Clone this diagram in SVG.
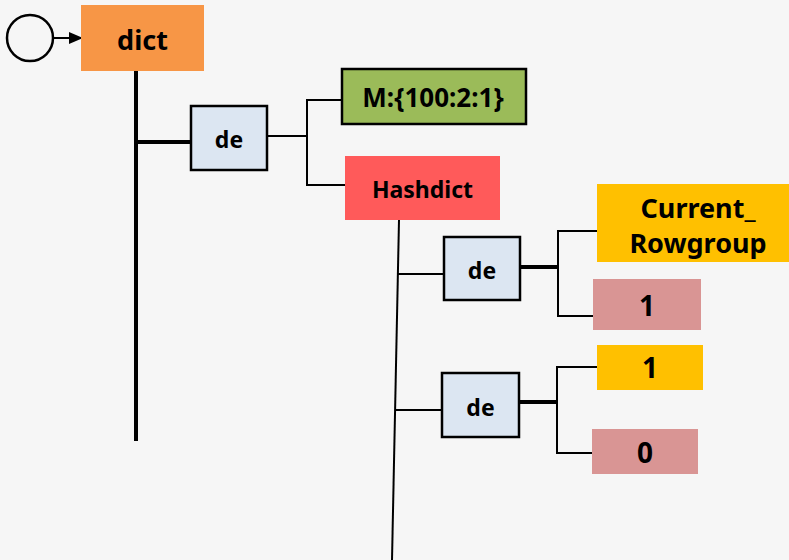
<svg xmlns="http://www.w3.org/2000/svg" width="789" height="560" viewBox="0 0 789 560">
<style>
text{font-family:"Noto Sans","Open Sans","Liberation Sans",sans-serif;font-weight:bold;fill:#000;text-anchor:middle;dominant-baseline:central}
.de{fill:#DCE6F2;stroke:#000;stroke-width:2.5}
.thin{stroke:#000;stroke-width:2;fill:none}
.thick{stroke:#000;stroke-width:4;fill:none}
</style>
<defs>
<marker id="ah" markerWidth="14" markerHeight="14" refX="13" refY="7" orient="auto" markerUnits="userSpaceOnUse">
<path d="M0,1 L14,7 L0,13 Z" fill="#000"/>
</marker>
</defs>
<rect width="789" height="560" fill="#F6F6F6"/>
<g id="connectors">
<line class="thin" x1="53" y1="38" x2="82" y2="38" stroke-width="2.5" marker-end="url(#ah)"/>
<line class="thick" x1="136" y1="71" x2="136" y2="441"/>
<line class="thick" x1="136" y1="142" x2="191" y2="142"/>
<polyline class="thin" points="267,136 307,136"/>
<polyline class="thin" points="342,100 307,100 307,185 345,185"/>
<line class="thin" x1="399" y1="220" x2="392" y2="560"/>
<line class="thin" x1="398" y1="274" x2="444" y2="274"/>
<line class="thick" x1="520" y1="267" x2="558" y2="267"/>
<polyline class="thin" points="597,231 558,231 558,316 593,316"/>
<line class="thin" x1="396" y1="410" x2="442" y2="410"/>
<line class="thick" x1="519" y1="402" x2="557" y2="402"/>
<polyline class="thin" points="597,367 557,367 557,453 592,453"/>
</g>
<g id="start"><circle cx="30" cy="38" r="23" fill="none" stroke="#000" stroke-width="2.5"/></g>
<g id="dict"><rect x="81" y="5" width="123" height="66" fill="#F79646"/><text x="142.5" y="39" font-size="27">dict</text></g>
<g id="de1"><rect class="de" x="191" y="106" width="76" height="64"/><text x="229" y="139" font-size="23">de</text></g>
<g id="m"><rect x="342" y="69" width="184" height="55" fill="#9BBB59" stroke="#000" stroke-width="2.5"/><text x="433" y="97" font-size="26">M:{100:2:1}</text></g>
<g id="hashdict"><rect x="345" y="156" width="155" height="64" fill="#FF5A5A"/><text x="422.5" y="189" font-size="23">Hashdict</text></g>
<g id="de2"><rect class="de" x="444" y="237" width="76" height="63"/><text x="482" y="270" font-size="23">de</text></g>
<g id="current"><rect x="597" y="184" width="192" height="78" fill="#FFC000"/><text x="698" y="207" font-size="27">Current_</text><text x="698" y="242" font-size="27">Rowgroup</text></g>
<g id="one1"><rect x="593" y="279" width="108" height="51" fill="#D99594"/><text x="647" y="305" font-size="28">1</text></g>
<g id="de3"><rect class="de" x="442" y="373" width="77" height="64"/><text x="480.5" y="407" font-size="23">de</text></g>
<g id="one2"><rect x="597" y="345" width="106" height="45" fill="#FFC000"/><text x="650" y="367" font-size="28">1</text></g>
<g id="zero"><rect x="592" y="429" width="106" height="45" fill="#D99594"/><text x="645" y="452" font-size="28">0</text></g>
</svg>
